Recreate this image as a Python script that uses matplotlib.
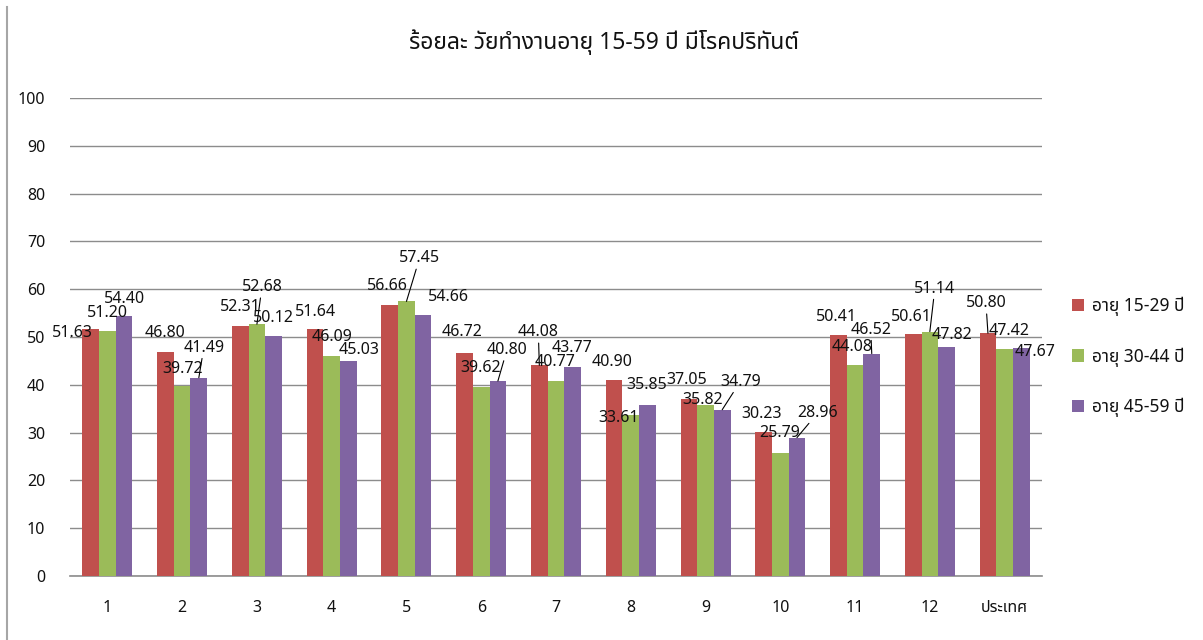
import matplotlib
matplotlib.use("Agg")
import matplotlib.pyplot as plt
from matplotlib import font_manager
from matplotlib.ft2font import FT2Font
from matplotlib.lines import Line2D
from matplotlib.patches import Patch
import numpy as np

# ---------------- data ----------------
categories = ["1", "2", "3", "4", "5", "6", "7", "8", "9", "10", "11", "12", "ประเทศ"]
series_names = ["อายุ 15-29 ปี", "อายุ 30-44 ปี", "อายุ 45-59 ปี"]
age_15_29 = [51.63, 46.80, 52.31, 51.64, 56.66, 46.72, 44.08, 40.90, 37.05, 30.23, 50.41, 50.61, 50.80]
age_30_44 = [51.20, 39.72, 52.68, 46.09, 57.45, 39.62, 40.77, 33.61, 35.82, 25.79, 44.08, 51.14, 47.42]
age_45_59 = [54.40, 41.49, 50.12, 45.03, 54.66, 40.80, 43.77, 35.85, 34.79, 28.96, 46.52, 47.82, 47.67]
yticks = [0, 10, 20, 30, 40, 50, 60, 70, 80, 90, 100]
title = "ร้อยละ วัยทำงานอายุ 15-59 ปี มีโรคปริทันต์"

# ---------------- style / label placement (pixels) ----------------
colors = ["#C0504D", "#9BBB59", "#8064A2"]
label_offsets = [
    [(-18, -4), (0, 19), (0, 19), (0, 17), (-2, 19), (-2, 21), (-1, 33), (-2, 18), (-2, 19), (-2, 18), (-2, 18), (-2, 17), (-2, 30)],
    [(0, 18), (0, 17), (5, 37), (0, 19), (13, 43), (-1, 19), (-1, 19), (-12, -3), (-3, 5), (-1, 20), (-3, 18), (5, 43), (5, 18)],
    [(0, 17), (5, 30), (0, 18), (11, 11), (25, 18), (9, 31), (-1, 19), (-1, 20), (18, 28), (21, 25), (-1, 24), (5, 12), (14, -4)],
]
leaders = [
    {6, 12},
    {2, 4, 11},
    {1, 5, 8, 9, 10},
]

# ---------------- find a Thai-capable font ----------------
def find_thai_font():
    prefs = []
    seen = set()
    for f in font_manager.fontManager.ttflist:
        if f.name in seen:
            continue
        try:
            cmap = FT2Font(f.fname).get_charmap()
        except Exception:
            continue
        if 0x0E23 in cmap and 0x0E1B in cmap:
            seen.add(f.name)
            prefs.append(f.name)
    order = ["Tahoma", "Leelawadee UI", "Leelawadee", "Noto Sans Thai", "Noto Sans Thai UI",
             "Sarabun", "Garuda", "Loma", "Kinnari", "Norasi", "Waree", "Umpush"]
    for o in order:
        if o in prefs:
            return o
    return prefs[0] if prefs else None

thai = find_thai_font()
fam = ([thai] if thai else []) + ["Liberation Sans", "DejaVu Sans"]
plt.rcParams["font.family"] = fam

W, H = 1203, 640
fig = plt.figure(figsize=(W / 100, H / 100), dpi=100)
ax_left, ax_right, ax_bottom, ax_top = 70, 1042, 576, 98
ax = fig.add_axes([ax_left / W, 1 - ax_bottom / H, (ax_right - ax_left) / W, (ax_bottom - ax_top) / H])

x = np.arange(len(categories))
bw = 0.223
all_series = [age_15_29, age_30_44, age_45_59]
for k, (vals, col, name) in enumerate(zip(all_series, colors, series_names)):
    xs = x + (k - 1) * bw
    ax.bar(xs, vals, width=bw, color=col, label=name, zorder=3, linewidth=0)
    for i, v in enumerate(vals):
        dx, dy = label_offsets[k][i]
        ap = None
        if i in leaders[k]:
            ap = dict(arrowstyle="-", color="black", lw=0.8, shrinkA=0, shrinkB=0)
        ax.annotate(f"{v:.2f}", xy=(xs[i], v), xytext=(dx, dy), textcoords="offset pixels",
                    ha="center", va="center", fontsize=11.5, color="#111111",
                    arrowprops=ap, zorder=5, annotation_clip=False)

ax.set_xlim(-0.5, len(categories) - 0.5)
ax.set_ylim(0, 100)
ax.set_yticks(yticks)
ax.set_xticks(x)
ax.set_xticklabels(categories)
ax.grid(axis="y", color="#8c8c8c", lw=1.0, zorder=0)
ax.set_axisbelow(True)
for s in ["top", "right", "left"]:
    ax.spines[s].set_visible(False)
ax.spines["bottom"].set_color("#8c8c8c")
ax.spines["bottom"].set_linewidth(1.2)
ax.tick_params(axis="y", length=0, pad=18, labelsize=11.5, labelcolor="#111111")
ax.tick_params(axis="x", length=0, pad=17, labelsize=11.5, labelcolor="#111111")

fig.text(604 / W, 1 - 42 / H, title, ha="center", va="center", fontsize=16.5, color="#111111")

handles = [Patch(facecolor=c, edgecolor="none") for c in colors]
fig.legend(handles, series_names, loc="center left", bbox_to_anchor=(1063 / W, 1 - 357 / H),
           frameon=False, fontsize=12.5, handlelength=0.72, handleheight=0.72,
           handletextpad=0.45, labelspacing=1.8, borderpad=0, labelcolor="#111111")

# screenshot border line at left
fig.add_artist(Line2D([7 / W, 7 / W], [0, 1 - 7 / H], transform=fig.transFigure, color="#a6a6a6", lw=1.5))

fig.savefig("out.png", dpi=100)
